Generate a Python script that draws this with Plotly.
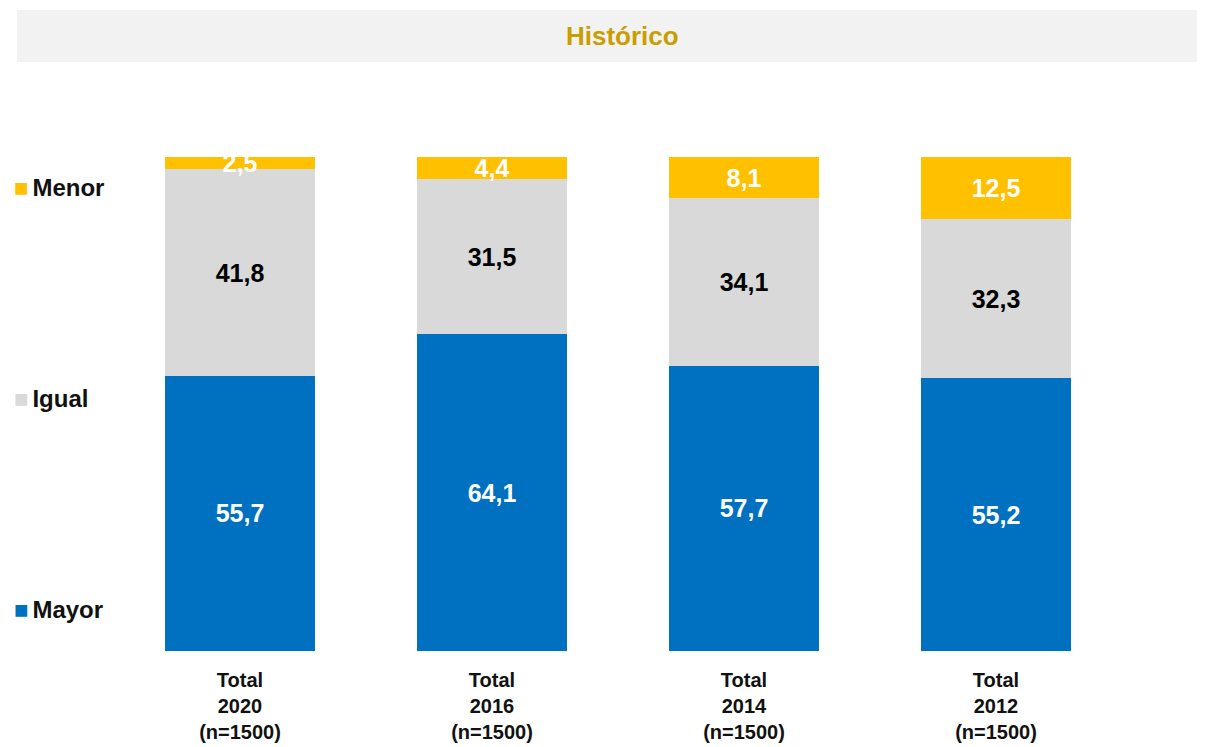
import plotly.graph_objects as go

categorias = ["Total<br>2020<br>(n=1500)", "Total<br>2016<br>(n=1500)",
              "Total<br>2014<br>(n=1500)", "Total<br>2012<br>(n=1500)"]
mayor = [55.7, 64.1, 57.7, 55.2]
igual = [41.8, 31.5, 34.1, 32.3]
menor = [2.5, 4.4, 8.1, 12.5]

series = [
    ("Mayor", mayor, "#0070C0", "white"),
    ("Igual", igual, "#D9D9D9", "black"),
    ("Menor", menor, "#FFC000", "white"),
]

FONT = "Liberation Sans, Arial, sans-serif"

fig = go.Figure()
for nombre, vals, color, txtcolor in series:
    fig.add_trace(go.Bar(
        x=categorias, y=vals, name=nombre,
        marker=dict(color=color, line=dict(width=0)),
        texttemplate="%{y:.1f}", textposition="inside",
        insidetextanchor="middle", constraintext="none",
        textfont=dict(family=FONT, size=25, color=txtcolor, weight="bold"),
        showlegend=False,
    ))

# leyenda a la izquierda (posiciones en coordenadas del papel)
leyenda_y = {"Mayor": 0.085, "Igual": 0.512, "Menor": 0.939}
for nombre, vals, color, txtcolor in series:
    fig.add_annotation(
        x=-0.101, y=leyenda_y[nombre], xref="paper", yref="paper",
        xanchor="left", yanchor="middle", showarrow=False,
        text=(f"<span style='color:{color};font-size:24px'>■</span>"
              f"<span style='font-size:14px'> </span>{nombre}"),
        font=dict(family=FONT, size=24, color="#111111", weight="bold"),
    )

# barra de titulo
fig.add_shape(type="rect", xref="paper", yref="paper",
              x0=-0.0962, x1=1.09, y0=1.1923, y1=1.2976,
              fillcolor="#F2F2F2", line=dict(width=0), layer="below")
fig.add_annotation(
    x=0.504, y=1.245, xref="paper", yref="paper", showarrow=False,
    text="Histórico", xanchor="center", yanchor="middle",
    font=dict(family=FONT, size=26, color="#C99E00", weight="bold"),
)

fig.update_layout(
    width=1197, height=739,
    barmode="stack", bargap=0.405,
    separators=",.",
    margin=dict(l=106, r=83, t=149, b=96),
    plot_bgcolor="white", paper_bgcolor="white",
)
fig.update_xaxes(
    showgrid=False, showline=False, zeroline=False, automargin=False,
    ticks="outside", ticklen=11, tickcolor="white",
    tickfont=dict(family=FONT, size=20, color="#111111", weight="bold"),
)
fig.update_yaxes(range=[0, 100], visible=False)

fig.write_html("out.html")
